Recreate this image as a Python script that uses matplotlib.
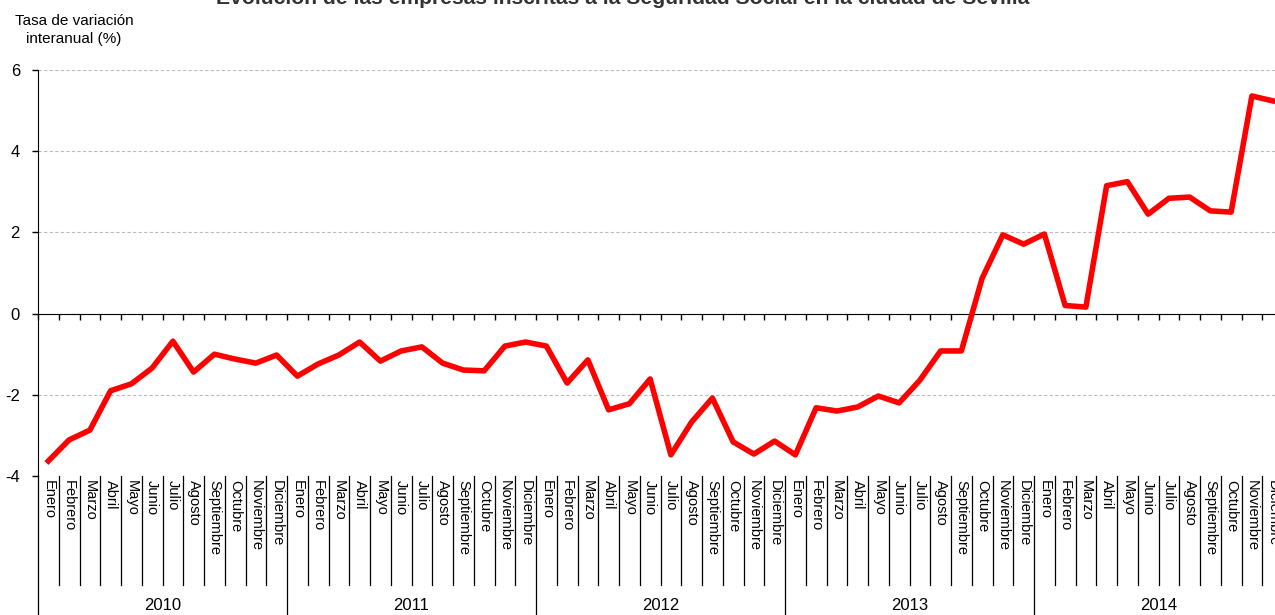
import matplotlib
matplotlib.use("Agg")
from matplotlib import pyplot as plt

plt.rcParams['font.family'] = ['Liberation Sans', 'DejaVu Sans']

TITLE = 'Evolución de las empresas inscritas a la Seguridad Social en la ciudad de Sevilla'
Y_LABEL = 'Tasa de variación\ninteranual (%)'

YEARS = ['2010', '2011', '2012', '2013', '2014']
MONTHS = ['Enero', 'Febrero', 'Marzo', 'Abril', 'Mayo', 'Junio', 'Julio',
          'Agosto', 'Septiembre', 'Octubre', 'Noviembre', 'Diciembre']

# tasa de variacion interanual, una lista por año
rate_2010 = [-3.63, -3.11, -2.87, -1.90, -1.73, -1.34, -0.68, -1.44, -1.00, -1.12, -1.22, -1.02]
rate_2011 = [-1.54, -1.24, -1.02, -0.70, -1.17, -0.92, -0.82, -1.22, -1.39, -1.41, -0.80, -0.70]
rate_2012 = [-0.80, -1.71, -1.14, -2.37, -2.22, -1.61, -3.48, -2.67, -2.08, -3.16, -3.46, -3.14]
rate_2013 = [-3.48, -2.32, -2.40, -2.30, -2.03, -2.20, -1.64, -0.92, -0.92, 0.87, 1.94, 1.71]
rate_2014 = [1.96, 0.20, 0.16, 3.15, 3.25, 2.45, 2.84, 2.87, 2.53, 2.50, 5.36, 5.24]

Y_TICKS = [-4, -2, 0, 2, 4, 6]

W, H = 1275, 615


def make_chart(out_file='out.png'):
    values = rate_2010 + rate_2011 + rate_2012 + rate_2013 + rate_2014
    n = len(values)
    x = list(range(n))

    fig = plt.figure(figsize=(W / 100, H / 100), dpi=100)
    # the plot runs past the right edge of the picture, like the original
    ax = fig.add_axes([38 / W, (H - 476) / H, 1245 / W, 406 / H])

    ax.plot(x, values, color='#FF0000', lw=4, solid_joinstyle='round', zorder=3)

    ax.set_xlim(-0.5, n - 0.5)
    ax.set_ylim(-4, 6)
    ax.set_yticks(Y_TICKS)
    ax.set_yticklabels([str(t) for t in Y_TICKS], fontsize=12)
    ax.tick_params(axis='y', direction='out', length=4, width=1, pad=9)
    ax.yaxis.grid(True, ls=(0, (3, 2)), color='#BBBBBB', lw=0.8)
    ax.set_axisbelow(True)

    # x axis sits on zero, ticks on the month borders
    ax.spines['bottom'].set_position(('data', 0))
    ax.spines['top'].set_visible(False)
    ax.spines['right'].set_visible(False)
    ax.set_xticks([i - 0.5 for i in range(n + 1)])
    ax.set_xticklabels([])
    ax.tick_params(axis='x', direction='out', length=4, width=1)

    # month / year table under the plot
    tr = ax.get_xaxis_transform()
    month_bottom = -109 / 406
    year_bottom = -140 / 406
    for i in range(n + 1):
        b = i - 0.5
        low = year_bottom if i % 12 == 0 else month_bottom
        ax.plot([b, b], [0, low], color='black', lw=0.9, transform=tr, clip_on=False)
    for i in range(n):
        ax.text(i, -4 / 406, MONTHS[i % 12], transform=tr, rotation=-90,
                ha='center', va='top', fontsize=10.5)
    for k, year in enumerate(YEARS):
        ax.text(k * 12 + 5.5, -129 / 406, year, transform=tr,
                ha='center', va='center', fontsize=12)

    fig.text(74 / W, 1 - 30 / H, Y_LABEL, ha='center', va='center',
             fontsize=11, linespacing=1.4)
    # title is mostly outside the picture in the original
    fig.text(623 / W, 1 - 4 / H, TITLE, ha='center', va='baseline',
             fontsize=15.2, fontweight='bold', color='#333333')

    fig.savefig(out_file, dpi=100)


if __name__ == "__main__":
    make_chart()
